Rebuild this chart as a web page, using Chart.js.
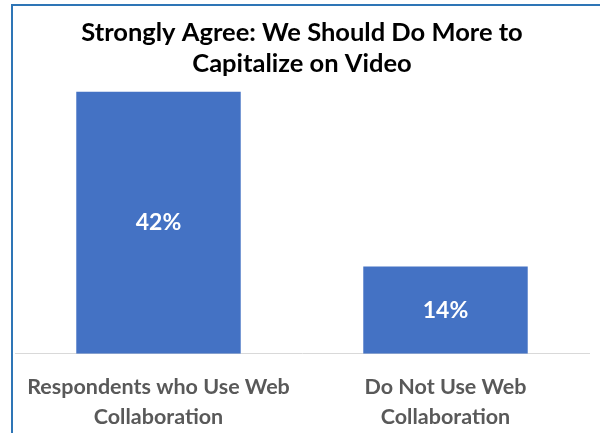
<!DOCTYPE html>
<html>
<head>
<meta charset="utf-8">
<script src="https://cdn.jsdelivr.net/npm/chart.js@4/dist/chart.umd.min.js"></script>
<style>
  html, body { margin: 0; padding: 0; background: #fff; }
  #wrap { position: relative; width: 600px; height: 433px; overflow: hidden; }
  #frame { position: absolute; left: 11px; top: 4px; width: 600px; height: 440px;
           border-top: 2px solid #2E75B6; border-left: 2px solid #2E75B6; pointer-events: none; }
  canvas { position: absolute; left: 0; top: 0; }
</style>
</head>
<body>
<div id="wrap">
  <!-- canvas is a bit taller than the frame: the x axis reserves tick padding twice -->
  <canvas id="chart" width="600" height="451"></canvas>
  <div id="frame"></div>
</div>
<script>
// chart data
var titleLines = ['Strongly Agree: We Should Do More to', 'Capitalize on Video'];
var categories = [['Respondents who Use Web', 'Collaboration'], ['Do Not Use Web', 'Collaboration']];
var values = [42, 14];

var FONT = 'Lato, "Open Sans", sans-serif';

// white value labels centred in each bar
var barLabels = {
  id: 'barLabels',
  afterDatasetsDraw: function(chart) {
    var ctx = chart.ctx;
    var meta = chart.getDatasetMeta(0);
    ctx.save();
    ctx.fillStyle = '#ffffff';
    ctx.font = 'bold 23px ' + FONT;
    ctx.textAlign = 'center';
    ctx.textBaseline = 'middle';
    meta.data.forEach(function(bar, i) {
      var p = bar.getProps(['x', 'y', 'base'], true);
      ctx.fillText(values[i] + '%', p.x, (p.y + p.base) / 2);
    });
    ctx.restore();
  }
};

var ctx = document.getElementById('chart').getContext('2d');
var myChart = new Chart(ctx, {
  type: 'bar',
  data: {
    labels: categories,
    datasets: [{
      data: values,
      backgroundColor: '#4472C4',
      borderWidth: 0,
      barPercentage: 0.573,
      categoryPercentage: 1
    }]
  },
  options: {
    responsive: false,
    animation: false,
    events: [],
    layout: { padding: { left: 15, right: 11, top: 0, bottom: 1 } },
    plugins: {
      legend: { display: false },
      tooltip: { enabled: false },
      title: {
        display: true,
        text: titleLines,
        color: '#000000',
        font: { family: FONT, size: 25.5, weight: 'bold', lineHeight: 1.22 },
        padding: { top: 17, bottom: 0 }
      }
    },
    scales: {
      x: {
        grid: { display: false, drawTicks: false },
        border: { display: true, color: '#D9D9D9', width: 1 },
        ticks: {
          color: '#595959',
          padding: 18,
          maxRotation: 0,
          autoSkip: false,
          font: { family: FONT, size: 21.5, weight: 'bold', lineHeight: 1.4 }
        }
      },
      y: {
        display: false,
        min: 0,
        max: 44
      }
    }
  },
  plugins: [barLabels]
});
</script>
</body>
</html>
